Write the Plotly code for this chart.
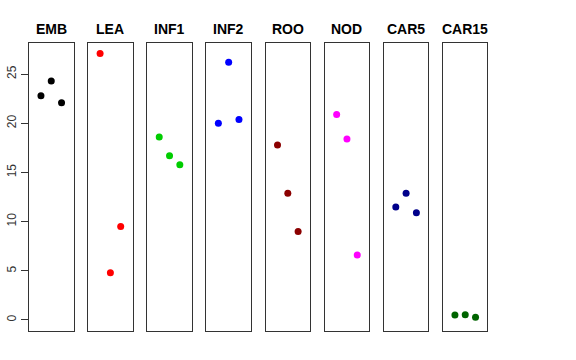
import plotly.graph_objects as go

groups = ["EMB", "LEA", "INF1", "INF2", "ROO", "NOD", "CAR5", "CAR15"]
values = {
    "EMB":   [22.8, 24.3, 22.1],
    "LEA":   [27.1, 4.8, 9.5],
    "INF1":  [18.6, 16.7, 15.8],
    "INF2":  [20.0, 26.2, 20.4],
    "ROO":   [17.8, 12.9, 9.0],
    "NOD":   [20.9, 18.4, 6.6],
    "CAR5":  [11.5, 12.9, 10.9],
    "CAR15": [0.51, 0.54, 0.28],
}
colors = ["#000000", "#FF0000", "#00CD00", "#0000FF", "#8B0000", "#FF00FF", "#00008B", "#006400"]
xpos = [1, 2, 3]
yticks = [0, 5, 10, 15, 20, 25]

W, H = 576, 360
fig = go.Figure()
left0, step, pw = 29.0, 59.14, 44.5
ytop, ybot = 42.7, 330.7
ydom = [1 - ybot / H, 1 - ytop / H]

for i, g in enumerate(groups):
    n = "" if i == 0 else str(i + 1)
    xa = "x" + n
    ya = "y" + n
    fig.add_trace(go.Scatter(x=xpos, y=values[g], mode="markers",
                             marker=dict(color=colors[i], size=7),
                             xaxis=xa, yaxis=ya, showlegend=False))
    l = left0 + step * i
    xdom = [l / W, (l + pw) / W]
    fig.layout["xaxis" + n] = dict(domain=xdom, range=[-0.16, 4.16], showgrid=False,
                                   zeroline=False, showticklabels=False, ticks="",
                                   showline=True, mirror=True, linecolor="#333", linewidth=1,
                                   anchor=ya, fixedrange=True, automargin=False)
    ydict = dict(domain=ydom, range=[-1.09, 28.2], showgrid=False, zeroline=False,
                 showline=True, mirror=True, linecolor="#333", linewidth=1,
                 anchor=xa, fixedrange=True, automargin=False)
    if i == 0:
        ydict.update(tickvals=yticks, ticktext=[str(v) for v in yticks], ticks="outside",
                     ticklen=7, tickcolor="#333", tickangle=-90,
                     tickfont=dict(size=12, color="#333", family="Liberation Sans, Arial, sans-serif"))
    else:
        ydict.update(showticklabels=False, ticks="")
    fig.layout["yaxis" + n] = ydict
    fig.add_annotation(text="<b>%s</b>" % g, x=(l + pw / 2) / W, y=1 - 29 / H,
                       xref="paper", yref="paper", showarrow=False,
                       font=dict(size=14, color="#000", family="Liberation Sans, Arial, sans-serif"),
                       xanchor="center", yanchor="middle")

fig.update_layout(width=W, height=H, margin=dict(l=0, r=0, t=0, b=0, autoexpand=False),
                  paper_bgcolor="white", plot_bgcolor="white")
fig.write_html("out.html", config={"displayModeBar": False},
               post_script="document.body.style.margin='0';document.body.style.overflow='hidden';")
